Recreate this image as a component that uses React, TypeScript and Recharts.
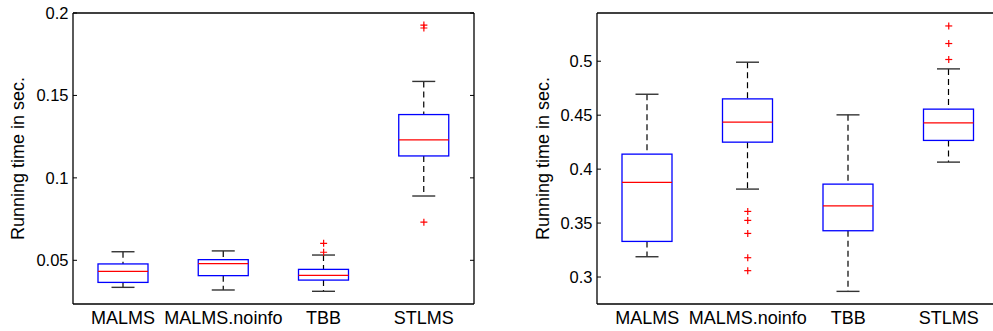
import { ComposedChart, Bar, Line, XAxis, YAxis } from 'recharts'

const FONT = '"Liberation Sans", Arial, Helvetica, sans-serif'

const categories = ['MALMS', 'MALMS.noinfo', 'TBB', 'STLMS']

// left panel
const leftLower = [0.0336, 0.032, 0.0312, 0.089]
const leftQ1 = [0.0366, 0.0407, 0.038, 0.1133]
const leftMedian = [0.0433, 0.048, 0.0409, 0.1231]
const leftQ3 = [0.0478, 0.0504, 0.0445, 0.1384]
const leftUpper = [0.0552, 0.0557, 0.0532, 0.1585]
const leftOutliers = [[], [], [0.0603, 0.0549], [0.1927, 0.1909, 0.0731]]
const leftTicks = [0.05, 0.1, 0.15, 0.2]
const leftDomain = [0.0235, 0.2]

// right panel
const rightLower = [0.3188, 0.3815, 0.2867, 0.4065]
const rightQ1 = [0.333, 0.425, 0.3429, 0.4266]
const rightMedian = [0.3877, 0.4435, 0.366, 0.4429]
const rightQ3 = [0.4139, 0.4651, 0.3861, 0.4556]
const rightUpper = [0.4694, 0.4991, 0.4503, 0.4929]
const rightOutliers = [[], [0.3608, 0.3525, 0.3404, 0.3179, 0.3059], [], [0.5327, 0.5164, 0.5016]]
const rightTicks = [0.3, 0.35, 0.4, 0.45, 0.5]
const rightDomain = [0.275, 0.5447]

const outlierKeys = ['o0', 'o1', 'o2', 'o3', 'o4']

function buildRows(
  lower: number[],
  q1: number[],
  median: number[],
  q3: number[],
  upper: number[],
  outliers: number[][]
) {
  return categories.map((name, i) => {
    const row: any = { name, lo: lower[i], q1: q1[i], med: median[i], q3: q3[i], hi: upper[i] }
    outliers[i].forEach((v, k) => {
      row['o' + k] = v
    })
    return row
  })
}

const leftRows = buildRows(leftLower, leftQ1, leftMedian, leftQ3, leftUpper, leftOutliers)
const rightRows = buildRows(rightLower, rightQ1, rightMedian, rightQ3, rightUpper, rightOutliers)

// bar spans lower..upper whisker; inner levels placed on the same linear scale
function BoxShape(props: any) {
  const { x, y, width, height, payload } = props
  if (x == null || y == null) return <g />
  const top = Math.min(y, y + height)
  const bottom = Math.max(y, y + height)
  const span = payload.hi - payload.lo
  const py = (v: number) => top + ((payload.hi - v) / span) * (bottom - top)
  const cx = x + width / 2
  const cap = width * 0.23
  const yQ1 = py(payload.q1)
  const yQ3 = py(payload.q3)
  const yMed = py(payload.med)
  return (
    <g>
      <line x1={cx} x2={cx} y1={top} y2={yQ3} stroke="#000" strokeWidth={1.2} strokeDasharray="6 4" />
      <line x1={cx} x2={cx} y1={yQ1} y2={bottom} stroke="#000" strokeWidth={1.2} strokeDasharray="6 4" />
      <line x1={cx - cap} x2={cx + cap} y1={top} y2={top} stroke="#333" strokeWidth={1.4} />
      <line x1={cx - cap} x2={cx + cap} y1={bottom} y2={bottom} stroke="#333" strokeWidth={1.4} />
      <rect x={x} y={yQ3} width={width} height={yQ1 - yQ3} fill="none" stroke="#0000ff" strokeWidth={1.3} />
      <line x1={x} x2={x + width} y1={yMed} y2={yMed} stroke="#ff0000" strokeWidth={1.3} />
    </g>
  )
}

function PlusDot(props: any) {
  const { cx, cy, value, index, dataKey } = props
  const key = `${dataKey}-${index}`
  if (value == null || cy == null || cx == null) return <g key={key} />
  return (
    <g key={key}>
      <line x1={cx - 3.5} x2={cx + 3.5} y1={cy} y2={cy} stroke="#ff0000" strokeWidth={1.2} />
      <line x1={cx} x2={cx} y1={cy - 3.5} y2={cy + 3.5} stroke="#ff0000" strokeWidth={1.2} />
    </g>
  )
}

const NoTick = () => <g />

const axisLine = { stroke: '#000', strokeWidth: 1.3 }

interface BoxChartProps {
  rows: any[]
  domain: number[]
  ticks: number[]
  width: number
  yWidth: number
  marginRight: number
  top: number
  labelX: number
  rightSpine: boolean
}

function BoxChart({ rows, domain, ticks, width, yWidth, marginRight, top, labelX, rightSpine }: BoxChartProps) {
  return (
    <ComposedChart
      width={width}
      height={331}
      data={rows}
      margin={{ top: top - 1, right: rightSpine ? marginRight - 1 : marginRight, bottom: 0, left: 0 }}
    >
      <XAxis
        xAxisId="b"
        dataKey="name"
        height={27}
        interval={0}
        tickLine={false}
        tickSize={0}
        tickMargin={7}
        axisLine={axisLine}
        tick={{ fill: '#000', fontSize: 18, fontFamily: FONT }}
      />
      <XAxis
        xAxisId="t"
        dataKey="name"
        orientation="top"
        height={1}
        tickSize={0}
        tick={false}
        tickLine={false}
        axisLine={axisLine}
      />
      <YAxis
        yAxisId="l"
        width={yWidth}
        domain={domain}
        ticks={ticks}
        allowDataOverflow
        interval={0}
        tickSize={-4}
        tickMargin={8.5}
        axisLine={axisLine}
        tickLine={{ stroke: '#000', strokeWidth: 1 }}
        tick={{ fill: '#000', fontSize: 16.5, fontFamily: FONT }}
        label={{
          content: ({ viewBox }: any) => {
            const lx = viewBox.x + labelX
            const ly = viewBox.y + viewBox.height / 2
            return (
              <text
                x={lx}
                y={ly}
                transform={`rotate(-90, ${lx}, ${ly})`}
                textAnchor="middle"
                dominantBaseline="central"
                fill="#000"
                fontSize={18}
                fontFamily={FONT}
              >
                Running time in sec.
              </text>
            )
          },
        }}
      />
      {rightSpine && (
        <YAxis
          yAxisId="r"
          orientation="right"
          width={1}
          domain={domain}
          ticks={ticks}
          allowDataOverflow
          interval={0}
          tickSize={-4}
          tickMargin={0}
          axisLine={axisLine}
          tickLine={{ stroke: '#000', strokeWidth: 1 }}
          tick={NoTick}
        />
      )}
      <Bar
        xAxisId="b"
        yAxisId="l"
        dataKey={(d: any) => [d.lo, d.hi]}
        barSize={50}
        shape={BoxShape}
        isAnimationActive={false}
      />
      {outlierKeys.map((k) => (
        <Line
          key={k}
          xAxisId="b"
          yAxisId="l"
          dataKey={k}
          stroke="none"
          dot={PlusDot}
          activeDot={false}
          isAnimationActive={false}
        />
      ))}
    </ComposedChart>
  )
}

export default function App() {
  return (
    <div
      style={{
        position: 'fixed',
        left: 0,
        top: 0,
        width: 993,
        height: 331,
        overflow: 'hidden',
        background: '#fff',
        fontFamily: FONT,
      }}
    >
      <div style={{ position: 'absolute', left: 0, top: 0 }}>
        <BoxChart
          rows={leftRows}
          domain={leftDomain}
          ticks={leftTicks}
          width={490}
          yWidth={73}
          marginRight={16}
          top={13}
          labelX={18}
          rightSpine
        />
      </div>
      <div style={{ position: 'absolute', left: 500, top: 0 }}>
        <BoxChart
          rows={rightRows}
          domain={rightDomain}
          ticks={rightTicks}
          width={499}
          yWidth={97}
          marginRight={0}
          top={13}
          labelX={43}
          rightSpine={false}
        />
      </div>
    </div>
  )
}
